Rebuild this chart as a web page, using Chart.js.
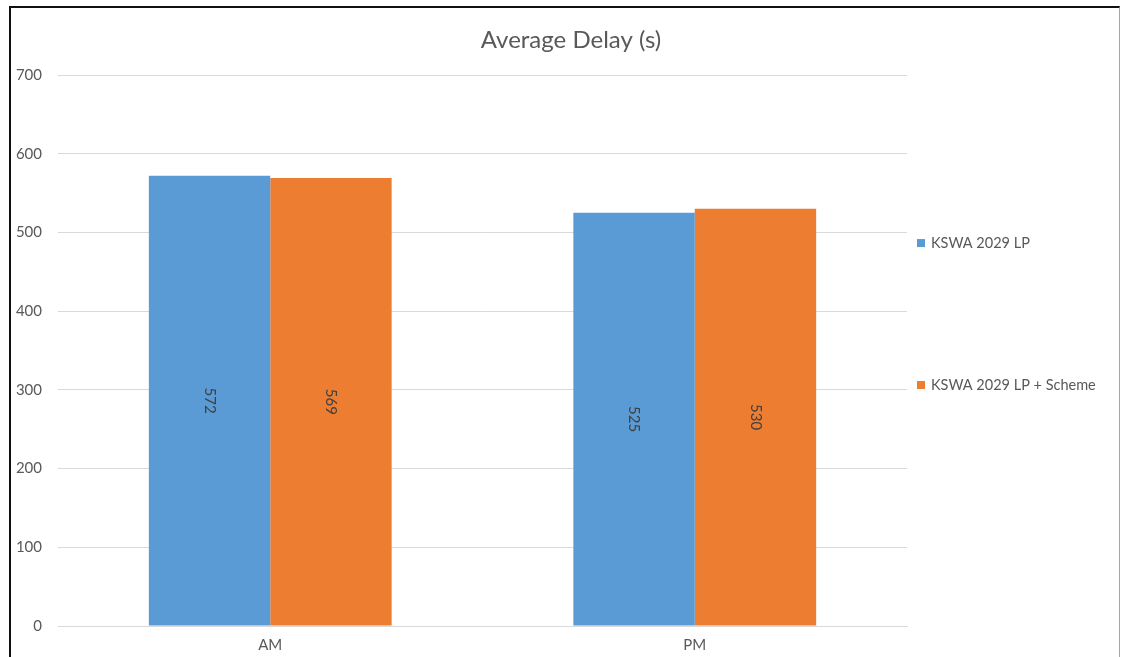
<!DOCTYPE html>
<html>
<head>
<meta charset="utf-8">
<script src="https://cdn.jsdelivr.net/npm/chart.js@4.4.1/dist/chart.umd.min.js"></script>
<style>
  html, body { margin: 0; padding: 0; background: #fff; overflow: hidden; }
  #frame {
    position: absolute; left: 9px; top: 6px;
    width: 1108px; height: 672px; overflow: hidden;
    border-left: 2px solid #111; border-top: 2px solid #111; border-right: 1px solid #a6a6a6;
  }
  #chart { display: block; }
</style>
</head>
<body>
<div id="frame"><canvas id="chart" width="1120" height="672"></canvas></div>
<script>
// Time periods and average delay per scenario (seconds)
const categories = ['AM', 'PM'];
const seriesNames = ['KSWA 2029 LP', 'KSWA 2029 LP + Scheme'];
const baseDelay = [572, 525];
const schemeDelay = [569, 530];
const yTicks = [0, 100, 200, 300, 400, 500, 600, 700];

const FONT = 'Lato, "Open Sans", sans-serif';
const TEXT_GREY = '#595959';

// Values written vertically in the middle of each bar
const barValueLabels = {
  id: 'barValueLabels',
  afterDatasetsDraw(chart) {
    const ctx = chart.ctx;
    ctx.save();
    ctx.font = '15px ' + FONT;
    ctx.fillStyle = '#404040';
    ctx.textAlign = 'center';
    ctx.textBaseline = 'middle';
    chart.data.datasets.forEach((ds, di) => {
      chart.getDatasetMeta(di).data.forEach((bar, i) => {
        const cy = (bar.y + bar.base) / 2;
        ctx.save();
        ctx.translate(bar.x, cy);
        ctx.rotate(Math.PI / 2);
        ctx.fillText(String(ds.data[i]), 0, 0);
        ctx.restore();
      });
    });
    ctx.restore();
  }
};

// Legend to the right of the plot, entries spread down the side
const sideLegend = {
  id: 'sideLegend',
  afterDraw(chart) {
    const ctx = chart.ctx;
    const area = chart.chartArea;
    const x = area.right + 10;
    const rows = [area.top + 0.305 * area.height, area.top + 0.5626 * area.height];
    ctx.save();
    ctx.font = '14.5px ' + FONT;
    ctx.textAlign = 'left';
    ctx.textBaseline = 'middle';
    chart.data.datasets.forEach((ds, i) => {
      const y = rows[i];
      ctx.fillStyle = ds.backgroundColor;
      ctx.fillRect(x, y - 4, 8, 8);
      ctx.fillStyle = TEXT_GREY;
      ctx.fillText(ds.label, x + 14, y);
    });
    ctx.restore();
  }
};

new Chart(document.getElementById('chart'), {
  type: 'bar',
  data: {
    labels: categories,
    datasets: [
      { label: seriesNames[0], data: baseDelay, backgroundColor: '#5B9BD5' },
      { label: seriesNames[1], data: schemeDelay, backgroundColor: '#ED7D31' }
    ]
  },
  options: {
    responsive: false,
    animation: false,
    layout: { padding: { left: 0, right: 0, top: 0, bottom: 24 } },
    datasets: { bar: { categoryPercentage: 0.572, barPercentage: 1.0 } },
    plugins: {
      title: {
        display: true,
        text: 'Average Delay (s)',
        color: TEXT_GREY,
        font: { family: FONT, size: 24, weight: 'normal' },
        padding: { top: 17.6, bottom: 20.6 }
      },
      legend: { display: false },
      tooltip: { enabled: false }
    },
    scales: {
      x: {
        afterFit(scale) { scale.height = 30; },
        grid: { display: false, drawTicks: false },
        border: { display: true, color: '#D9D9D9', width: 1 },
        ticks: { color: TEXT_GREY, font: { family: FONT, size: 15 }, padding: 10 }
      },
      y: {
        min: 0, max: 700,
        afterBuildTicks(scale) { scale.ticks = yTicks.map(v => ({ value: v })); },
        afterFit(scale) { scale.width = 47; },
        grid: { color: '#D9D9D9', drawTicks: false },
        border: { display: false },
        ticks: { color: TEXT_GREY, font: { family: FONT, size: 15 }, padding: 16 }
      },
      // empty right-hand axis that keeps room for the legend
      side: {
        type: 'linear',
        position: 'right',
        min: 0, max: 700,
        afterFit(scale) { scale.width = 224; },
        grid: { display: false, drawTicks: false },
        border: { display: false },
        ticks: { display: false }
      }
    }
  },
  plugins: [barValueLabels, sideLegend]
});
</script>
</body>
</html>
